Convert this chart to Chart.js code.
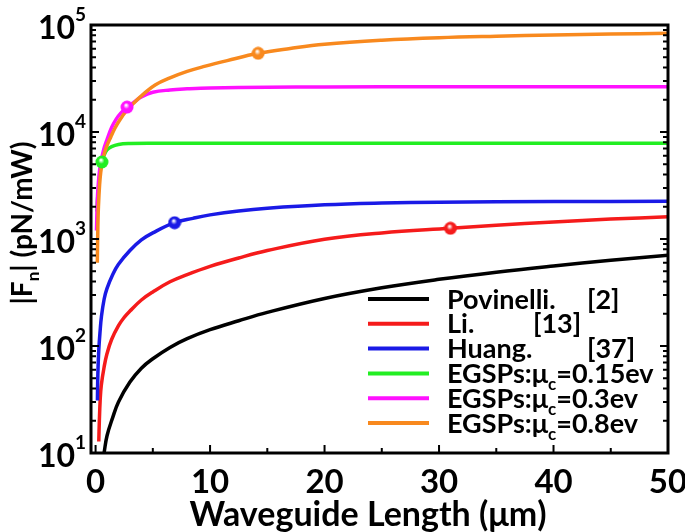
<!DOCTYPE html>
<html>
<head>
<meta charset="utf-8">
<script src="https://cdn.jsdelivr.net/npm/chart.js@4.4.1/dist/chart.umd.min.js"></script>
<style>
  html, body { margin: 0; padding: 0; background: #fff; }
  #wrap { width: 685px; height: 532px; }
</style>
</head>
<body>
<div id="wrap"><canvas id="graphic"></canvas></div>
<script>
// values (x in um, y in pN/mW)
const povinelliX = [0.74, 1.0, 1.5, 2.0, 3.0, 4.0, 5.0, 6.5, 8.0, 10, 12.5, 15, 20, 25, 30, 35, 40, 45, 50];
const povinelliY = [10, 14.5, 21.5, 30, 46, 62, 76, 97, 117, 142, 172, 206, 278, 350, 420, 490, 560, 633, 705];

const liX = [0.28, 0.33, 0.4, 0.5, 0.75, 1.0, 1.4, 2.0, 2.5, 3.0, 4.0, 5.0, 6.5, 8.0, 10, 12.5, 15, 20, 25, 31, 35, 40, 45, 50];
const liY = [12.8, 20, 31, 43, 64, 85, 115, 155, 185, 212, 269, 320, 398, 465, 555, 665, 780, 995, 1140, 1260, 1345, 1445, 1535, 1610];

const huangX = [0.16, 0.2, 0.28, 0.4, 0.51, 0.75, 1.0, 1.5, 2.0, 3.0, 4.0, 5.0, 6.9, 8.5, 10, 12.5, 15, 20, 25, 30, 40, 50];
const huangY = [31, 55, 92, 140, 188, 275, 345, 465, 580, 780, 980, 1140, 1420, 1560, 1680, 1830, 1940, 2090, 2170, 2210, 2240, 2250];

const egsp015X = [0.1, 0.2, 0.3, 0.4, 0.57, 0.75, 1.0, 1.4, 2.0, 3.0, 5.0, 10, 20, 30, 40, 50];
const egsp015Y = [1800, 2600, 3400, 4300, 5300, 6100, 6800, 7300, 7650, 7800, 7850, 7850, 7850, 7850, 7850, 7850];

const egsp03X = [0.08, 0.15, 0.25, 0.35, 0.45, 0.7, 1.0, 1.4, 1.8, 2.2, 2.75, 3.3, 4.0, 5.0, 6.5, 8, 10, 15, 20, 30, 40, 50];
const egsp03Y = [1200, 2300, 3400, 4400, 5100, 6800, 8500, 11000, 13200, 15000, 17100, 18800, 21300, 23500, 24700, 25300, 25800, 26200, 26400, 26500, 26500, 26500];

const egsp08X = [0.15, 0.2, 0.25, 0.35, 0.45, 0.6, 0.8, 1.0, 1.33, 1.7, 2.1, 2.7, 3.3, 4.2, 5.2, 6.5, 8, 9.5, 11.5, 14.2, 17, 20, 25, 30, 35, 40, 45, 50];
const egsp08Y = [600, 1300, 2000, 3200, 4200, 5300, 6500, 7500, 9000, 10900, 12900, 15800, 18500, 22700, 27500, 32000, 36800, 41000, 46500, 54400, 60400, 66100, 72000, 76000, 78500, 80500, 82200, 83600];

// one marked point on each curve (none on Povinelli)
const markerX = [null, 31, 6.9, 0.55, 2.75, 14.2];
const markerY = [null, 1260, 1420, 5250, 17100, 54400];

const seriesNames = ['Povinelli.', 'Li.', 'Huang.', 'EGSPs:μ_c=0.15ev', 'EGSPs:μ_c=0.3ev', 'EGSPs:μ_c=0.8ev'];
const seriesRefs = ['[2]', '[13]', '[37]', '', '', ''];
const seriesColors = ['#000000', '#f51b1b', '#1a1ae6', '#22ee22', '#ff11ff', '#f8891e'];

const xTicks = [0, 10, 20, 30, 40, 50];
const yTickBase = '10';
const yTickExp = ['1', '2', '3', '4', '5'];
const xTitle = 'Waveguide Length (μm)';
const yTitle = '|F_n| (pN/mW)';

const FONT = 'Lato';

const allX = [povinelliX, liX, huangX, egsp015X, egsp03X, egsp08X];
const allY = [povinelliY, liY, huangY, egsp015Y, egsp03Y, egsp08Y];

function sphere(color) {
  const c = document.createElement('canvas');
  c.width = c.height = 14;
  const g = c.getContext('2d');
  const grad = g.createRadialGradient(6, 5, 0.5, 7, 7, 7);
  grad.addColorStop(0, '#ffffff');
  grad.addColorStop(0.4, color);
  grad.addColorStop(1, color);
  g.fillStyle = grad;
  g.beginPath();
  g.arc(7, 7, 6.5, 0, Math.PI * 2);
  g.fill();
  return c;
}

const datasets = [];
allX.forEach((xs, i) => {
  datasets.push({
    type: 'line',
    data: xs.map((x, k) => ({ x: x, y: allY[i][k] })),
    borderColor: seriesColors[i],
    borderWidth: 3.5,
    pointRadius: 0,
    tension: 0.4,
    fill: false,
    order: 10 - i,
  });
});
markerX.forEach((mx, i) => {
  if (mx === null) return;
  datasets.push({
    type: 'scatter',
    data: [{ x: mx, y: markerY[i] }],
    pointStyle: sphere(seriesColors[i]),
    order: 0,
  });
});

function drawSub(ctx, text, x, y, size) {
  // text with "_c" style subscript
  const parts = text.split(/_(\w)/);
  let cx = x;
  parts.forEach((p, k) => {
    if (k % 2 === 1) {
      ctx.font = 'bold ' + Math.round(size * 0.62) + 'px ' + FONT;
      ctx.fillText(p, cx, y + size * 0.26);
    } else {
      ctx.font = 'bold ' + size + 'px ' + FONT;
      ctx.fillText(p, cx, y);
    }
    cx += ctx.measureText(p).width;
  });
  return cx - x;
}

function subWidth(ctx, text, size) {
  const parts = text.split(/_(\w)/);
  let w = 0;
  parts.forEach((p, k) => {
    ctx.font = 'bold ' + (k % 2 === 1 ? Math.round(size * 0.62) : size) + 'px ' + FONT;
    w += ctx.measureText(p).width;
  });
  return w;
}

const decor = {
  id: 'decor',
  afterDatasetsDraw(chart) {
    const { ctx, chartArea: a, scales: { x, y } } = chart;
    ctx.save();
    ctx.strokeStyle = '#000';
    ctx.fillStyle = '#000';

    // inward ticks
    ctx.lineWidth = 2;
    ctx.beginPath();
    for (let v = 0; v <= 50; v += 5) {
      const px = x.getPixelForValue(v);
      const len = v % 10 === 0 ? 8 : 5;
      ctx.moveTo(px, a.bottom);
      ctx.lineTo(px, a.bottom - len);
    }
    for (let d = 1; d < 5; d++) {
      for (let m = 1; m < 10; m++) {
        const py = y.getPixelForValue(m * Math.pow(10, d));
        const len = m === 1 ? 8 : 5;
        ctx.moveTo(a.left, py); ctx.lineTo(a.left + len, py);
        ctx.moveTo(a.right, py); ctx.lineTo(a.right - len, py);
      }
    }
    ctx.stroke();

    // frame
    ctx.lineWidth = 3;
    ctx.strokeRect(a.left, a.top, a.right - a.left, a.bottom - a.top);

    // y tick labels 10^n
    yTickExp.forEach((e, i) => {
      const py = y.getPixelForValue(Math.pow(10, i + 1));
      ctx.font = 'bold 32px ' + FONT;
      ctx.textAlign = 'right';
      ctx.textBaseline = 'alphabetic';
      ctx.fillText(yTickBase, 75, py + 14);
      ctx.font = 'bold 19px ' + FONT;
      ctx.textAlign = 'left';
      ctx.fillText(e, 75, py - 4);
    });

    // y title |Fn| (pN/mW)
    ctx.save();
    ctx.translate(32, 223);
    ctx.rotate(-Math.PI / 2);
    ctx.textAlign = 'left';
    const w = subWidth(ctx, yTitle, 28);
    drawSub(ctx, yTitle, -w / 2, 0, 28);
    ctx.restore();

    // x title
    ctx.font = 'bold 34px ' + FONT;
    ctx.textAlign = 'center';
    ctx.textBaseline = 'alphabetic';
    ctx.fillText(xTitle, 368, 526);

    // legend
    ctx.textAlign = 'left';
    const refX = [587, 533, 587];
    seriesNames.forEach((name, i) => {
      const ry = 299 + i * 24.8;
      ctx.strokeStyle = seriesColors[i];
      ctx.lineWidth = 4;
      ctx.beginPath();
      ctx.moveTo(368, ry);
      ctx.lineTo(429, ry);
      ctx.stroke();
      ctx.fillStyle = '#000';
      drawSub(ctx, name, 447, ry + 9.5, 27);
      if (seriesRefs[i]) {
        ctx.font = 'bold 27px ' + FONT;
        ctx.fillText(seriesRefs[i], refX[i], ry + 9.5);
      }
    });
    ctx.restore();
  }
};

const graphic = document.getElementById('graphic');
const chart = new Chart(graphic, {
  data: { datasets: datasets },
  options: {
    responsive: true,
    maintainAspectRatio: false,
    animation: false,
    layout: { padding: { top: 25, right: 17, left: 0, bottom: 0 } },
    plugins: { legend: { display: false }, tooltip: { enabled: false } },
    scales: {
      x: {
        type: 'linear',
        min: -0.4,
        max: 50,
        grid: { display: false, drawTicks: false },
        border: { display: false },
        ticks: {
          color: '#000',
          padding: 10,
          maxRotation: 0,
          font: { family: FONT, weight: 'bold', size: 33 },
        },
        afterBuildTicks: (s) => { s.ticks = xTicks.map(v => ({ value: v })); },
        afterFit: (s) => { s.height = 79; s.paddingLeft = 0; s.paddingRight = 0; },
      },
      y: {
        type: 'logarithmic',
        min: 10,
        max: 100000,
        grid: { display: false, drawTicks: false },
        border: { display: false },
        ticks: { display: false },
        afterFit: (s) => { s.width = 91; },
      },
    },
  },
  plugins: [decor],
});
</script>
</body>
</html>
